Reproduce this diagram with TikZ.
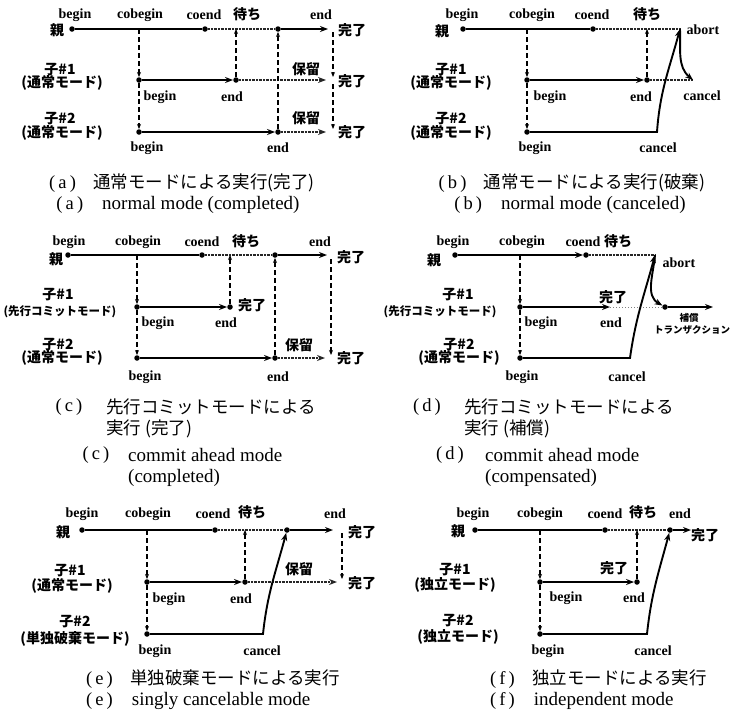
\documentclass[tikz,border=0pt]{standalone}
\usepackage{fontspec}
\setmainfont{Liberation Serif}
\newfontfamily\jp{Noto Sans CJK JP}
\usepackage{tikz}
\usetikzlibrary{arrows.meta}
\newcommand{\lblfont}{\fontsize{14}{15}\selectfont\bfseries}
\newcommand{\jlfont}{\jp\fontsize{14}{15}\selectfont\bfseries}
\newcommand{\jsfont}{\jp\fontsize{11.5}{13}\selectfont\bfseries}
\newcommand{\jtfont}{\jp\fontsize{9.5}{11}\selectfont\bfseries}
\newcommand{\capjfont}{\jp\fontsize{17.5}{19}\selectfont}
\newcommand{\capefont}{\fontsize{19}{21}\selectfont}
\newcommand{\tagf}[1]{{\rmfamily\fontsize{18.5}{20}\selectfont(\,#1\,)}}

\begin{document}
\begin{tikzpicture}[x=1pt, y=-1pt,
  dot/.style={circle, fill=black, inner sep=0pt, minimum size=5.5pt},
  proc/.style={line width=1.9pt},
  waitln/.style={line width=2.2pt, dash pattern=on 0.7pt off 0.7pt, black!85},
  faint/.style={line width=0.7pt, dash pattern=on 1pt off 2pt, gray},
  vdash/.style={line width=1.2pt, dash pattern=on 5pt off 3pt},
  arr/.style={-{Stealth[length=8pt,width=6pt]}},
  sarr/.style={-{Stealth[length=5pt,width=4pt]}},
  lbl/.style={font=\lblfont, inner sep=0pt},
  jl/.style={font=\jlfont, inner sep=0pt},
  js/.style={font=\jsfont, inner sep=0pt},
  jt/.style={font=\jtfont, inner sep=0pt},
  capj/.style={font=\capjfont, inner sep=0pt, anchor=west},
  cape/.style={font=\capefont, inner sep=0pt, anchor=west},
  tagn/.style={inner sep=0pt}
]
\useasboundingbox (0,0) rectangle (746,715);

%% (a) normal mode, completed
\node[dot] (a-pb) at (72,29) {};
\coordinate (a-pcb) at (139,29);
\node[dot] (a-pce) at (205,29) {};
\coordinate (a-pw) at (236,29);
\node[dot] (a-pr) at (278,29) {};
\coordinate (a-pe) at (328,29);
\node[dot] (a-c1b) at (139,80) {};
\node[dot] (a-c1e) at (236,80) {};
\coordinate (a-c1x) at (326,80);
\node[dot] (a-c2b) at (139,132) {};
\node[dot] (a-c2e) at (278,132) {};
\coordinate (a-c2x) at (326,132);
\coordinate (a-r0) at (333,32);
\coordinate (a-r1) at (333,77);
\coordinate (a-r2) at (333,84);
\coordinate (a-r3) at (333,129);
\draw[proc] (a-pb) -- (a-pce);
\draw[waitln] (a-pce) -- (a-pr);
\draw[proc, arr] (a-pr) -- (a-pe);
\draw[proc, arr] (a-c1b) -- (a-c1e);
\draw[waitln, arr] (a-c1e) -- (a-c1x);
\draw[proc, arr] (a-c2b) -- (a-c2e);
\draw[waitln, arr] (a-c2e) -- (a-c2x);
\draw[vdash, sarr] (a-pcb) -- (a-c1b);
\draw[vdash, sarr] (a-c1b) -- (a-c2b);
\draw[vdash, sarr] (a-c1e) -- (a-pw);
\draw[vdash, sarr] (a-c2e) -- (a-pr);
\draw[vdash, sarr] (a-r0) -- (a-r1);
\draw[vdash, sarr] (a-r2) -- (a-r3);
\node[lbl] (a-lb) at (75,15) {begin};
\node[lbl] (a-lcb) at (140,15) {cobegin};
\node[lbl] (a-lce) at (204,15) {coend};
\node[jl] (a-lw) at (247,14) {待ち};
\node[lbl] (a-le) at (321,15) {end};
\node[jl] (a-lp) at (57,30) {親};
\node[jl] (a-ld0) at (352,30) {完了};
\node[jl] (a-ld1) at (352,81) {完了};
\node[jl] (a-ld2) at (352,132) {完了};
\node[jl] (a-n1) at (60,70) {子\#1};
\node[jl] (a-m1) at (62,83) {(通常モード)};
\node[jl] (a-n2) at (60,119) {子\#2};
\node[jl] (a-m2) at (62,133) {(通常モード)};
\node[lbl] (a-l1b) at (160,97) {begin};
\node[lbl] (a-l1e) at (232,97) {end};
\node[jl] (a-h1) at (306,69) {保留};
\node[jl] (a-h2) at (306,118) {保留};
\node[lbl] (a-l2b) at (147,148) {begin};
\node[lbl] (a-l2e) at (278,148) {end};
\node[capj, anchor=center] (a-capj) at (182,183) {\tagf{a}\quad 通常モードによる実行(完了)};
\node[cape, anchor=center] (a-cape) at (178,205) {\tagf{a}\quad normal mode (completed)};

%% (b) normal mode, canceled
\node[dot] (b-pb) at (463,29) {};
\coordinate (b-pcb) at (527,29);
\node[dot] (b-pce) at (593,29) {};
\coordinate (b-pw) at (647,29);
\coordinate (b-pab) at (680,29);
\node[dot] (b-c1b) at (527,80) {};
\node[dot] (b-c1e) at (647,80) {};
\coordinate (b-c1x) at (693,80);
\node[dot] (b-c2b) at (527,132) {};
\coordinate (b-c2k) at (657,132);
\draw[proc] (b-pb) -- (b-pce);
\draw[waitln] (b-pce) -- (b-pab);
\draw[proc, arr] (b-c1b) -- (b-c1e);
\draw[waitln] (b-c1e) -- (b-c1x);
\draw[vdash, sarr] (b-pcb) -- (b-c1b);
\draw[vdash, sarr] (b-c1b) -- (b-c2b);
\draw[vdash, sarr] (b-c1e) -- (b-pw);
\draw[proc, arr] (b-c2b) -- (b-c2k) to[out=86, in=-105] (b-pab);
\draw[proc, arr] (b-pab) to[out=-88, in=140] (b-c1x);
\node[lbl] (b-lb) at (462,15) {begin};
\node[lbl] (b-lcb) at (532,15) {cobegin};
\node[lbl] (b-lce) at (592,15) {coend};
\node[jl] (b-lw) at (647,14) {待ち};
\node[jl] (b-lp) at (442,31) {親};
\node[lbl] (b-lab) at (703,30) {abort};
\node[jl] (b-n1) at (451,70) {子\#1};
\node[jl] (b-m1) at (451,83) {(通常モード)};
\node[jl] (b-n2) at (451,119) {子\#2};
\node[jl] (b-m2) at (451,133) {(通常モード)};
\node[lbl] (b-l1b) at (550,97) {begin};
\node[lbl] (b-l1e) at (641,97) {end};
\node[lbl] (b-l1c) at (702,96) {cancel};
\node[lbl] (b-l2b) at (535,148) {begin};
\node[lbl] (b-l2c) at (658,148) {cancel};
\node[capj, anchor=center] (b-capj) at (572,183) {\tagf{b}\quad 通常モードによる実行(破棄)};
\node[cape, anchor=center] (b-cape) at (570,205) {\tagf{b}\quad normal mode (canceled)};

%% (c) commit ahead mode, completed
\node[dot] (c-pb) at (68,255) {};
\coordinate (c-pcb) at (137,255);
\node[dot] (c-pce) at (202,255) {};
\coordinate (c-pw) at (230,255);
\node[dot] (c-pr) at (275,255) {};
\coordinate (c-pe) at (327,255);
\node[dot] (c-c1b) at (137,307) {};
\node[dot] (c-c1e) at (230,307) {};
\node[dot] (c-c2b) at (137,358) {};
\node[dot] (c-c2e) at (275,358) {};
\coordinate (c-c2x) at (325,358);
\coordinate (c-r0) at (331,259);
\coordinate (c-r1) at (331,355);
\draw[proc] (c-pb) -- (c-pce);
\draw[waitln] (c-pce) -- (c-pr);
\draw[proc, arr] (c-pr) -- (c-pe);
\draw[proc, arr] (c-c1b) -- (c-c1e);
\draw[proc, arr] (c-c2b) -- (c-c2e);
\draw[waitln, arr] (c-c2e) -- (c-c2x);
\draw[vdash, sarr] (c-pcb) -- (c-c1b);
\draw[vdash, sarr] (c-c1b) -- (c-c2b);
\draw[vdash, sarr] (c-c1e) -- (c-pw);
\draw[vdash, sarr] (c-c2e) -- (c-pr);
\draw[vdash, sarr] (c-r0) -- (c-r1);
\node[lbl] (c-lb) at (69,242) {begin};
\node[lbl] (c-lcb) at (138,242) {cobegin};
\node[lbl] (c-lce) at (202,242) {coend};
\node[jl] (c-lw) at (246,241) {待ち};
\node[lbl] (c-le) at (320,242) {end};
\node[jl] (c-lp) at (56,259) {親};
\node[jl] (c-ld0) at (351,257) {完了};
\node[jl] (c-ld1) at (252,305) {完了};
\node[jl] (c-ld2) at (351,358) {完了};
\node[jl] (c-n1) at (58,295) {子\#1};
\node[js] (c-m1) at (60,312) {(先行コミットモード)};
\node[jl] (c-n2) at (58,345) {子\#2};
\node[jl] (c-m2) at (62,358) {(通常モード)};
\node[lbl] (c-l1b) at (158,323) {begin};
\node[lbl] (c-l1e) at (226,323) {end};
\node[jl] (c-h2) at (299,345) {保留};
\node[lbl] (c-l2b) at (145,377) {begin};
\node[lbl] (c-l2e) at (278,377) {end};
\node[tagn] (c-t1) at (69,407) {\tagf{c}};
\node[capj] (c-cap1) at (106,407) {先行コミットモードによる};
\node[capj] (c-cap2) at (106,429) {実行 (完了)};
\node[tagn] (c-t3) at (96,455) {\tagf{c}};
\node[cape] (c-cap3) at (128,455) {commit ahead mode};
\node[cape] (c-cap4) at (128,478) {(completed)};

%% (d) commit ahead mode, compensated
\node[dot] (d-pb) at (455,255) {};
\coordinate (d-pcb) at (520,255);
\node[dot] (d-pce) at (586,255) {};
\coordinate (d-pab) at (655,255);
\node[dot] (d-c1b) at (520,307) {};
\coordinate (d-c1e) at (610,307);
\node[dot] (d-c1c) at (665,307) {};
\coordinate (d-c1x) at (713,307);
\node[dot] (d-c2b) at (520,358) {};
\coordinate (d-c2k) at (630,358);
\draw[proc, arr] (d-pb) -- (d-pce);
\draw[waitln] (d-pce) -- (d-pab);
\draw[proc, arr] (d-c1b) -- (d-c1e);
\draw[faint] (d-c1e) -- (d-c1c);
\draw[proc, arr] (d-c1c) -- (d-c1x);
\draw[vdash, sarr] (d-pcb) -- (d-c1b);
\draw[vdash, sarr] (d-c1b) -- (d-c2b);
\draw[proc, arr] (d-c2b) -- (d-c2k) to[out=82, in=-105] (d-pab);
\draw[proc, arr] (d-pab) to[out=-95, in=150] (d-c1c);
\node[lbl] (d-lb) at (453,242) {begin};
\node[lbl] (d-lcb) at (522,242) {cobegin};
\node[lbl] (d-lce) at (583,242) {coend};
\node[jl] (d-lw) at (618,241) {待ち};
\node[jl] (d-lp) at (434,260) {親};
\node[lbl] (d-lab) at (679,263) {abort};
\node[jl] (d-n1) at (458,295) {子\#1};
\node[js] (d-m1) at (440,312) {(先行コミットモード)};
\node[jl] (d-n2) at (459,345) {子\#2};
\node[jl] (d-m2) at (459,358) {(通常モード)};
\node[jl] (d-ld1) at (613,297) {完了};
\node[lbl] (d-l1b) at (541,323) {begin};
\node[lbl] (d-l1e) at (611,323) {end};
\node[jt] (d-cp1) at (689,318) {補償};
\node[jt] (d-cp2) at (692,330) {トランザクション};
\node[lbl] (d-l2b) at (522,377) {begin};
\node[lbl] (d-l2c) at (627,377) {cancel};
\node[tagn] (d-t1) at (427,407) {\tagf{d}};
\node[capj] (d-cap1) at (464,407) {先行コミットモードによる};
\node[capj] (d-cap2) at (464,429) {実行 (補償)};
\node[tagn] (d-t3) at (450,455) {\tagf{d}};
\node[cape] (d-cap3) at (485,455) {commit ahead mode};
\node[cape] (d-cap4) at (485,478) {(compensated)};

%% (e) singly cancelable mode
\node[dot] (e-pb) at (82,530) {};
\coordinate (e-pcb) at (147,530);
\node[dot] (e-pce) at (215,530) {};
\coordinate (e-pw) at (245,530);
\node[dot] (e-pr) at (287,530) {};
\coordinate (e-pe) at (333,530);
\node[dot] (e-c1b) at (147,582) {};
\node[dot] (e-c1e) at (245,582) {};
\coordinate (e-c1x) at (337,582);
\node[dot] (e-c2b) at (147,634) {};
\coordinate (e-c2k) at (263,634);
\coordinate (e-r0) at (342,533);
\coordinate (e-r1) at (342,579);
\draw[proc] (e-pb) -- (e-pce);
\draw[waitln] (e-pce) -- (e-pr);
\draw[proc, arr] (e-pr) -- (e-pe);
\draw[proc, arr] (e-c1b) -- (e-c1e);
\draw[waitln, arr] (e-c1e) -- (e-c1x);
\draw[vdash, sarr] (e-pcb) -- (e-c1b);
\draw[vdash, sarr] (e-c1b) -- (e-c2b);
\draw[vdash, sarr] (e-c1e) -- (e-pw);
\draw[vdash, sarr] (e-r0) -- (e-r1);
\draw[proc, arr] (e-c2b) -- (e-c2k) to[out=84, in=-105] (e-pr);
\node[lbl] (e-lb) at (82,514) {begin};
\node[lbl] (e-lcb) at (148,514) {cobegin};
\node[lbl] (e-lce) at (213,514) {coend};
\node[jl] (e-lw) at (252,512) {待ち};
\node[lbl] (e-le) at (335,514) {end};
\node[jl] (e-lp) at (63,532) {親};
\node[jl] (e-ld0) at (362,532) {完了};
\node[jl] (e-ld1) at (362,583) {完了};
\node[jl] (e-n1) at (70,571) {子\#1};
\node[jl] (e-m1) at (72,586) {(通常モード)};
\node[jl] (e-n2) at (75,622) {子\#2};
\node[jl] (e-m2) at (75,639) {(単独破棄モード)};
\node[lbl] (e-l1b) at (169,599) {begin};
\node[lbl] (e-l1e) at (241,599) {end};
\node[jl] (e-h1) at (299,569) {保留};
\node[lbl] (e-l2b) at (155,651) {begin};
\node[lbl] (e-l2c) at (262,651) {cancel};
\node[capj] (e-capj) at (86,679) {\tagf{e}\quad 単独破棄モードによる実行};
\node[cape] (e-cape) at (86,701) {\tagf{e}\quad singly cancelable mode};

%% (f) independent mode
\node[dot] (f-pb) at (475,530) {};
\coordinate (f-pcb) at (540,530);
\node[dot] (f-pce) at (605,530) {};
\coordinate (f-pw) at (637,530);
\node[dot] (f-pr) at (670,530) {};
\coordinate (f-pe) at (691,530);
\node[dot] (f-c1b) at (540,582) {};
\node[dot] (f-c1e) at (637,582) {};
\node[dot] (f-c2b) at (540,634) {};
\coordinate (f-c2k) at (647,634);
\draw[proc] (f-pb) -- (f-pce);
\draw[waitln] (f-pce) -- (f-pr);
\draw[proc, arr] (f-pr) -- (f-pe);
\draw[proc, arr] (f-c1b) -- (f-c1e);
\draw[vdash, sarr] (f-pcb) -- (f-c1b);
\draw[vdash, sarr] (f-c1b) -- (f-c2b);
\draw[vdash, sarr] (f-c1e) -- (f-pw);
\draw[proc, arr] (f-c2b) -- (f-c2k) to[out=84, in=-105] (f-pr);
\node[lbl] (f-lb) at (473,514) {begin};
\node[lbl] (f-lcb) at (540,514) {cobegin};
\node[lbl] (f-lce) at (605,514) {coend};
\node[jl] (f-lw) at (643,512) {待ち};
\node[lbl] (f-le) at (680,514) {end};
\node[jl] (f-lp) at (458,531) {親};
\node[jl] (f-ld0) at (705,535) {完了};
\node[jl] (f-ld1) at (614,568) {完了};
\node[jl] (f-n1) at (455,570) {子\#1};
\node[jl] (f-m1) at (455,585) {(独立モード)};
\node[jl] (f-n2) at (458,621) {子\#2};
\node[jl] (f-m2) at (458,637) {(独立モード)};
\node[lbl] (f-l1b) at (566,598) {begin};
\node[lbl] (f-l1e) at (634,598) {end};
\node[lbl] (f-l2b) at (548,651) {begin};
\node[lbl] (f-l2c) at (653,651) {cancel};
\node[capj] (f-capj) at (490,679) {\tagf{f}\quad 独立モードによる実行};
\node[cape] (f-cape) at (490,701) {\tagf{f}\quad independent mode};
\end{tikzpicture}
\end{document}
